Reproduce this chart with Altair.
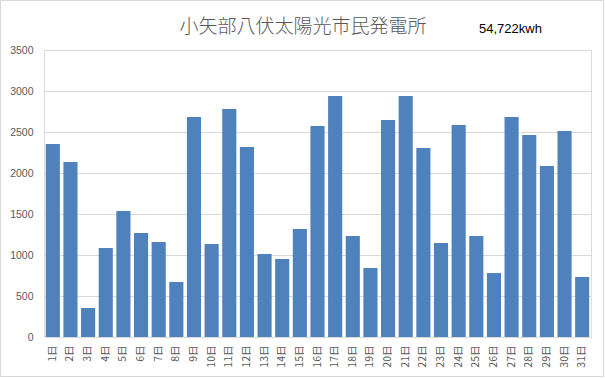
import altair as alt
import pandas as pd

days = [f"{i}日" for i in range(1, 32)]
kwh = [2354, 2134, 354, 1085, 1537, 1268, 1159, 671, 2683, 1134,
       2780, 2317, 1012, 951, 1317, 2573, 2939, 1232, 841, 2646,
       2939, 2305, 1146, 2585, 1232, 780, 2683, 2463, 2085, 2512, 732]
y_ticks = [0, 500, 1000, 1500, 2000, 2500, 3000, 3500]
title_text = "小矢部八伏太陽光市民発電所"
total_text = "54,722kwh"

df = pd.DataFrame({"day": days, "kwh": kwh})

bars = alt.Chart(df).mark_bar(color="#4F81BD").encode(
    x=alt.X("day:N", sort=days, title=None,
            scale=alt.Scale(paddingInner=0.2, paddingOuter=0.1),
            axis=alt.Axis(labelAngle=-90, ticks=False, domainColor="#d9d9d9",
                          labelColor="#595959", labelFontSize=10.5, labelPadding=8,
                          labelFont="Noto Sans CJK JP")),
    y=alt.Y("kwh:Q", title=None,
            scale=alt.Scale(domain=[0, 3500], nice=False),
            axis=alt.Axis(values=y_ticks, domain=False, ticks=False, format="d",
                          gridColor="#d9d9d9", labelColor="#595959",
                          labelFontSize=10.5, labelPadding=11,
                          labelFont="Liberation Sans")),
)

title = alt.Chart(pd.DataFrame({"t": [title_text]})).mark_text(
    align="center", baseline="middle", fontSize=19, color="#595959",
    font="Noto Sans CJK JP", fontWeight=300
).encode(text="t:N", x=alt.value(259), y=alt.value(-23))

total = alt.Chart(pd.DataFrame({"t": [total_text]})).mark_text(
    align="left", baseline="middle", fontSize=13, color="#000000",
    font="Liberation Sans"
).encode(text="t:N", x=alt.value(435), y=alt.value(-21))

frame = alt.Chart(pd.DataFrame({"f": [0]})).mark_rect(
    fill="transparent", stroke="#d9d9d9", strokeWidth=1
).encode(x=alt.value(-43.5), x2=alt.value(559.5),
         y=alt.value(-49.5), y2=alt.value(326.5))

chart = alt.layer(bars, title, total, frame).properties(
    width=547, height=287,
    autosize=alt.AutoSizeParams(type="none"),
    padding={"left": 44, "top": 50, "right": 14, "bottom": 41},
).configure_view(stroke=None).configure(background="white")

chart.save("out.html", embed_options={"renderer": "svg", "actions": False})
